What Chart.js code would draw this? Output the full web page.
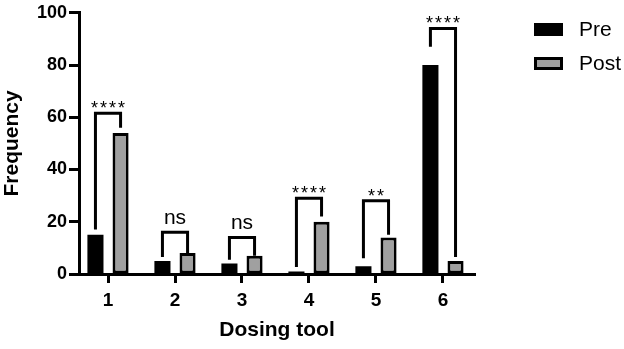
<!DOCTYPE html>
<html>
<head>
<meta charset="utf-8">
<script src="https://cdn.jsdelivr.net/npm/chart.js@4/dist/chart.umd.min.js"></script>
<style>
  body { margin: 0; background: #fff; }
  #wrap { width: 624px; height: 349px; position: relative; }
</style>
</head>
<body>
<div id="wrap"><canvas id="myChart"></canvas></div>
<script>
const herramientas = ['1', '2', '3', '4', '5', '6'];
const pre = [15, 5, 4, 1, 3, 80];
const post = [54, 8, 7, 20, 14, 5];
// brackets de significancia (en unidades del eje y)
const sigLabel = ['****', 'ns', 'ns', '****', '**', '****'];
const sigTop = [61.5, 16, 14, 29, 28, 94];
const sigPiePre = [17, 6.5, 5.5, 2.7, 6, 87];
const sigPiePost = [56, 8, 7, 22, 15, 6.5];
const yTicks = [0, 20, 40, 60, 80, 100];

const fuente = "'Liberation Sans', Arial, sans-serif";
const gris = '#a0a0a0';

const brackets = {
  id: 'brackets',
  afterDatasetsDraw(chart) {
    const ctx = chart.ctx;
    const y = chart.scales.y;
    const m0 = chart.getDatasetMeta(0).data;
    const m1 = chart.getDatasetMeta(1).data;
    ctx.save();
    ctx.strokeStyle = '#000';
    ctx.lineWidth = 3;
    ctx.lineJoin = 'miter';
    ctx.lineCap = 'butt';
    for (let i = 0; i < herramientas.length; i++) {
      const x1 = m0[i].x, x2 = m1[i].x;
      const top = y.getPixelForValue(sigTop[i]);
      ctx.beginPath();
      ctx.moveTo(x1, y.getPixelForValue(sigPiePre[i]));
      ctx.lineTo(x1, top);
      ctx.lineTo(x2, top);
      ctx.lineTo(x2, y.getPixelForValue(sigPiePost[i]));
      ctx.stroke();
      ctx.fillStyle = '#000';
      ctx.textAlign = 'center';
      ctx.textBaseline = 'alphabetic';
      if (sigLabel[i] == 'ns') {
        ctx.font = '21px ' + fuente;
        ctx.letterSpacing = '0px';
        ctx.fillText(sigLabel[i], (x1 + x2) / 2, top - 8);
      } else {
        ctx.font = '18px ' + fuente;
        ctx.letterSpacing = '2px';
        ctx.fillText(sigLabel[i], (x1 + x2) / 2 + 1, top + 1);
      }
    }
    ctx.restore();
  }
};

const leyenda = {
  id: 'leyenda',
  afterDraw(chart) {
    const ctx = chart.ctx;
    const x0 = chart.chartArea.right + 59;
    const filas = [29.5, 63.5];
    ctx.save();
    chart.data.datasets.forEach((ds, i) => {
      const cy = filas[i];
      ctx.fillStyle = '#000';
      ctx.fillRect(x0, cy - 6.5, 29, 13);
      if (ds.borderWidth) {
        ctx.fillStyle = ds.backgroundColor;
        ctx.fillRect(x0 + 3, cy - 3.5, 23, 7);
      }
      ctx.fillStyle = '#000';
      ctx.font = '21px ' + fuente;
      ctx.textAlign = 'left';
      ctx.textBaseline = 'middle';
      ctx.fillText(ds.label, x0 + 45, cy + 1);
    });
    ctx.restore();
  }
};

new Chart(document.getElementById('myChart'), {
  type: 'bar',
  data: {
    datasets: [{
      label: 'Pre',
      data: pre.map((v, i) => ({ x: i + 1, y: v })),
      backgroundColor: '#000',
      borderWidth: 0,
    },
    {
      label: 'Post',
      data: post.map((v, i) => ({ x: i + 1, y: v })),
      backgroundColor: gris,
      borderColor: '#000',
      borderWidth: 3,
      borderSkipped: false,
    }]
  },
  options: {
    animation: false,
    responsive: true,
    maintainAspectRatio: false,
    categoryPercentage: 0.75,
    barPercentage: 0.64,
    layout: { padding: { top: 12, right: 149, left: 0, bottom: 0 } },
    plugins: {
      legend: { display: false },
      tooltip: { enabled: false },
    },
    scales: {
      x: {
        type: 'linear',
        min: 0.567,
        max: 6.478,
        offset: false,
        afterFit: (s) => { s.height = 75; },
        afterBuildTicks: (s) => { s.ticks = herramientas.map((h, i) => ({ value: i + 1 })); },
        grid: {
          offset: false,
          drawOnChartArea: false,
          drawTicks: true,
          tickLength: 9,
          tickWidth: 3,
          tickColor: '#000',
        },
        border: { color: '#000', width: 3 },
        ticks: {
          color: '#000',
          padding: 6,
          callback: (v) => herramientas[v - 1],
          font: { family: fuente, size: 19, weight: 'bold' },
        },
        title: {
          display: true,
          text: 'Dosing tool',
          color: '#000',
          padding: { top: 0, bottom: 6 },
          font: { family: fuente, size: 21, weight: 'bold' },
        }
      },
      y: {
        min: 0,
        max: 100,
        afterFit: (s) => { s.width = 79; },
        afterBuildTicks: (s) => { s.ticks = yTicks.map(v => ({ value: v })); },
        grid: {
          drawOnChartArea: false,
          drawTicks: true,
          tickLength: 10,
          tickWidth: 3,
          tickColor: '#000',
        },
        border: { color: '#000', width: 3 },
        ticks: {
          color: '#000',
          padding: 2,
          font: { family: fuente, size: 18, weight: 'bold' },
        },
        title: {
          display: true,
          text: 'Frequency',
          color: '#000',
          padding: 0,
          font: { family: fuente, size: 21, weight: 'bold' },
        }
      }
    }
  },
  plugins: [brackets, leyenda]
});
</script>
</body>
</html>
